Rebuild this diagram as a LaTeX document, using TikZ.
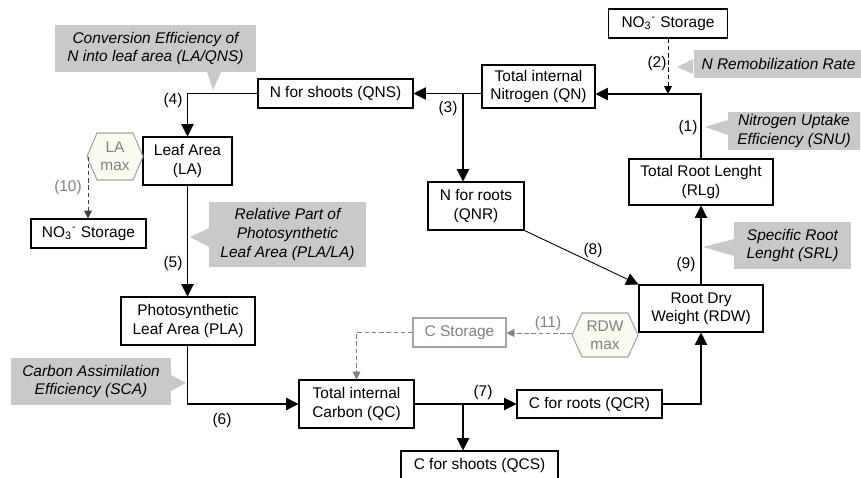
\documentclass[tikz,border=0pt]{standalone}
\usepackage{fontspec}
\setmainfont{Liberation Sans}
\usetikzlibrary{arrows.meta}
\definecolor{callgray}{RGB}{201,201,201}
\definecolor{softgray}{RGB}{128,128,128}
\definecolor{hexfill}{RGB}{250,250,240}
\definecolor{hexline}{RGB}{165,165,165}
\tikzset{
  box/.style = {draw, inner sep = 0pt, align = center},
  callout/.style = {fill = callgray, inner sep = 0pt, align = center, font = \fontsize{8.8}{10.8}\selectfont\itshape},
  flow/.style = {-{Triangle[length = 7pt, width = 7pt]}},
  dflow/.style = {line width = 0.5pt, dash pattern = on 2.6pt off 1.5pt, -{Triangle[length = 4.5pt, width = 4.5pt]}},
  num/.style = {inner sep = 0pt},
  hexshape/.style = {fill = hexfill, draw = hexline},
}
\begin{document}
\begin{tikzpicture}[x = 0.02cm, y = -0.02cm, line width = 0.6pt, font = \fontsize{8.8}{10.4}\selectfont]
  \useasboundingbox (0, 0) rectangle (861, 477);
  \node[box, minimum width = 2.38cm, minimum height = 0.58cm] (nosttop) at (668, 23.5) {NO\textsubscript{3}\textsuperscript{-} Storage};
  \node[box, minimum width = 2.26cm, minimum height = 0.86cm] (qn) at (538.5, 86.5) {Total internal\\Nitrogen (QN)};
  \node[box, minimum width = 3.1cm, minimum height = 0.58cm] (qns) at (335.5, 93.5) {N for shoots (QNS)};
  \node[box, minimum width = 1.78cm, minimum height = 0.96cm] (la) at (187.5, 161) {Leaf Area\\(LA)};
  \node[box, minimum width = 2.3cm, minimum height = 0.58cm] (nostleft) at (88.5, 233.5) {NO\textsubscript{3}\textsuperscript{-} Storage};
  \node[box, minimum width = 2.68cm, minimum height = 0.96cm] (pla) at (188, 321) {Photosynthetic\\Leaf Area (PLA)};
  \node[box, minimum width = 1.92cm, minimum height = 0.96cm] (qnr) at (476, 206) {N for roots\\(QNR)};
  \node[box, minimum width = 2.88cm, minimum height = 0.92cm] (rlg) at (701, 182) {Total Root Lenght\\(RLg)};
  \node[box, minimum width = 2.48cm, minimum height = 0.94cm] (rdw) at (701, 308.5) {Root Dry\\Weight (RDW)};
  \node[box, draw = hexline, text = softgray, minimum width = 1.86cm, minimum height = 0.58cm] (cstor) at (459.5, 332.5) {C Storage};
  \node[box, minimum width = 2.3cm, minimum height = 0.96cm] (qc) at (356.5, 404) {Total internal\\Carbon (QC)};
  \node[box, minimum width = 2.9cm, minimum height = 0.56cm] (qcr) at (589.5, 404) {C for roots (QCR)};
  \node[box, minimum width = 3.14cm, minimum height = 0.56cm] (qcs) at (479.5, 465) {C for shoots (QCS)};

  \filldraw[hexshape] (87, 156.5) -- (97, 133) -- (133, 133) -- (143, 156.5) -- (133, 180) -- (97, 180) -- cycle;
  \node[num, align = center, text = softgray] (lamax) at (115, 156.5) {LA\\max};
  \coordinate (lamaxw) at (88, 156.5);
  \filldraw[hexshape] (572, 335) -- (582, 313) -- (628, 313) -- (638, 335) -- (628, 357) -- (582, 357) -- cycle;
  \node[num, align = center, text = softgray] (rdwmax) at (605, 335) {RDW\\max};
  \coordinate (rdwmaxw) at (572, 333);

  \node[callout, minimum width = 4.02cm, minimum height = 0.94cm] (cconv) at (155.5, 48.5) {Conversion Efficiency of\\N into leaf area (LA/QNS)};
  \fill[callgray] (207, 72) -- (213, 90) -- (221, 72) -- cycle;
  \node[callout, anchor = west, minimum width = 3.4cm, minimum height = 0.56cm] (cremob) at (693, 64) {N Remobilization Rate};
  \fill[callgray] (693, 59) -- (677, 67) -- (693, 74) -- cycle;
  \node[callout, minimum width = 2.64cm, minimum height = 0.76cm] (cuptake) at (794, 131) {Nitrogen Uptake\\Efficiency (SNU)};
  \fill[callgray] (728, 120) -- (705, 127) -- (728, 135) -- cycle;
  \node[callout, minimum width = 3.14cm, minimum height = 1.3cm] (crel) at (287.5, 234.5) {Relative Part of\\Photosynthetic\\Leaf Area (PLA/LA)};
  \fill[callgray] (209, 228) -- (190, 237) -- (209, 247) -- cycle;
  \node[callout, minimum width = 2.34cm, minimum height = 0.94cm] (csrl) at (792.5, 245.5) {Specific Root\\Lenght (SRL)};
  \fill[callgray] (734, 239) -- (703, 247) -- (734, 256) -- cycle;
  \node[callout, minimum width = 3.2cm, minimum height = 0.94cm] (csca) at (91, 381.5) {Carbon Assimilation\\Efficiency (SCA)};
  \fill[callgray] (171, 375) -- (186, 383) -- (171, 391) -- cycle;

  \coordinate (jn) at (701, 94);
  \coordinate (bn) at (463, 94);
  \coordinate (bc) at (463, 404);
  \draw[flow] (rlg.north) -- (jn) -- (qn.east |- jn);
  \draw[dflow] (nosttop.south) -- (nosttop.south |- jn);
  \draw[flow] (qn.west |- qns.east) -- (qns.east);
  \draw[flow] (bn) -- (bn |- qnr.north);
  \draw[flow] (qns.west) -- (la.north |- qns.west) -- (la.north);
  \draw[flow] (la.south) -- (pla.north -| la.south);
  \draw[flow] (la.south |- pla.south) -- (la.south |- qc.west) -- (qc.west);
  \draw[flow] (qc.east) -- (qcr.west);
  \draw[flow] (bc) -- (bc |- qcs.north);
  \draw[flow] (qcr.east) -- (rdw.south |- qcr.east) -- (rdw.south);
  \draw[flow] (rdw.north) -- (rlg.south);
  \draw[flow, line width = 0.5pt] (qnr.south east) -- (rdw.north west);
  \draw[dflow, softgray] (rdwmaxw) -- (cstor.east |- rdwmaxw);
  \draw[dflow, softgray] (cstor.west) -- (qc.north |- cstor.west) -- (qc.north);
  \draw[dflow, black!75] (lamaxw) -- (lamaxw |- nostleft.north);

  \node[num] (n1) at (688, 127) {(1)};
  \node[num] (n2) at (657, 63) {(2)};
  \node[num] (n3) at (448, 108) {(3)};
  \node[num] (n4) at (173, 100) {(4)};
  \node[num] (n5) at (173, 263) {(5)};
  \node[num] (n6) at (222, 420) {(6)};
  \node[num] (n7) at (483, 392) {(7)};
  \node[num] (n8) at (593, 250) {(8)};
  \node[num] (n9) at (686, 264) {(9)};
  \node[num, text = softgray] (n10) at (68, 187) {(10)};
  \node[num, text = softgray] (n11) at (548, 323) {(11)};
\end{tikzpicture}
\end{document}
